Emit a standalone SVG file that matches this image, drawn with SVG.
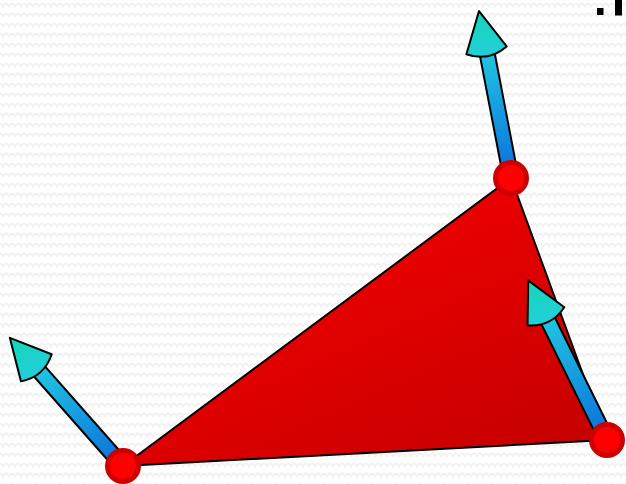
<svg xmlns="http://www.w3.org/2000/svg" width="626" height="484" viewBox="0 0 626 484">
  <style>
    .edge { stroke: #000; stroke-width: 2; stroke-linejoin: round; }
    .shaft { fill: url(#shaftGrad); }
    .head { fill: url(#headGrad); }
    .vertex { fill: #ff0000; stroke: #cc0000; stroke-width: 5; }
  </style>
  <defs>
    <pattern id="zig" width="12" height="10" patternUnits="userSpaceOnUse">
      <path d="M-3,6.5 Q-1.5,3.5 0,3.5 Q1.5,3.5 3,6.5 Q4.5,3.5 6,3.5 Q7.5,3.5 9,6.5 Q10.5,3.5 12,3.5 Q13.5,3.5 15,6.5" fill="none" stroke="#f2f2f2" stroke-width="1.8"/>
    </pattern>
    <linearGradient id="shaftGrad" x1="0" y1="1" x2="0" y2="0">
      <stop offset="0" stop-color="#0a6edc"/>
      <stop offset="1" stop-color="#22cae2"/>
    </linearGradient>
    <linearGradient id="headGrad" x1="0" y1="0" x2="0" y2="1">
      <stop offset="0" stop-color="#14d6b8"/>
      <stop offset="1" stop-color="#22cfd9"/>
    </linearGradient>
    <linearGradient id="triGrad" gradientUnits="userSpaceOnUse" x1="400" y1="200" x2="520" y2="470">
      <stop offset="0" stop-color="#ee0000"/>
      <stop offset="1" stop-color="#c60000"/>
    </linearGradient>
  </defs>

  <rect width="626" height="484" fill="#ffffff"/>
  <rect width="626" height="484" fill="url(#zig)"/>

  <g id="triangle">
    <path d="M123,466 L511,178 L607,440 Z" fill="url(#triGrad)" class="edge"/>
  </g>

  <g id="connectors">
    <g id="arrow-top" transform="translate(511,178) rotate(-10.85)">
      <rect class="shaft edge" x="-7.5" y="-136" width="15" height="136"/>
      <path class="head edge" d="M0,-170 L20.5,-130 Q0,-118 -20.5,-130 Z"/>
    </g>
    <g id="arrow-left" transform="translate(123,466) rotate(-41.44)">
      <rect class="shaft edge" x="-7.5" y="-137" width="15" height="137"/>
      <path class="head edge" d="M0,-171 L20.5,-131 Q0,-119 -20.5,-131 Z"/>
    </g>
    <g id="arrow-right" transform="translate(607,440) rotate(-26.28)">
      <rect class="shaft edge" x="-7.5" y="-144" width="15" height="144"/>
      <path class="head edge" d="M0,-178 L20.5,-138 Q0,-126 -20.5,-138 Z"/>
    </g>
  </g>

  <g id="vertex-top"><circle class="vertex" cx="511" cy="178" r="15.5"/></g>
  <g id="vertex-left"><circle class="vertex" cx="123" cy="466" r="15.5"/></g>
  <g id="vertex-right"><circle class="vertex" cx="607" cy="440" r="15.5"/></g>

  <g id="corner-marks">
    <rect x="597" y="8" width="6.5" height="7" fill="#000"/>
    <rect x="615" y="0" width="7" height="15.5" fill="#000"/>
  </g>
</svg>
